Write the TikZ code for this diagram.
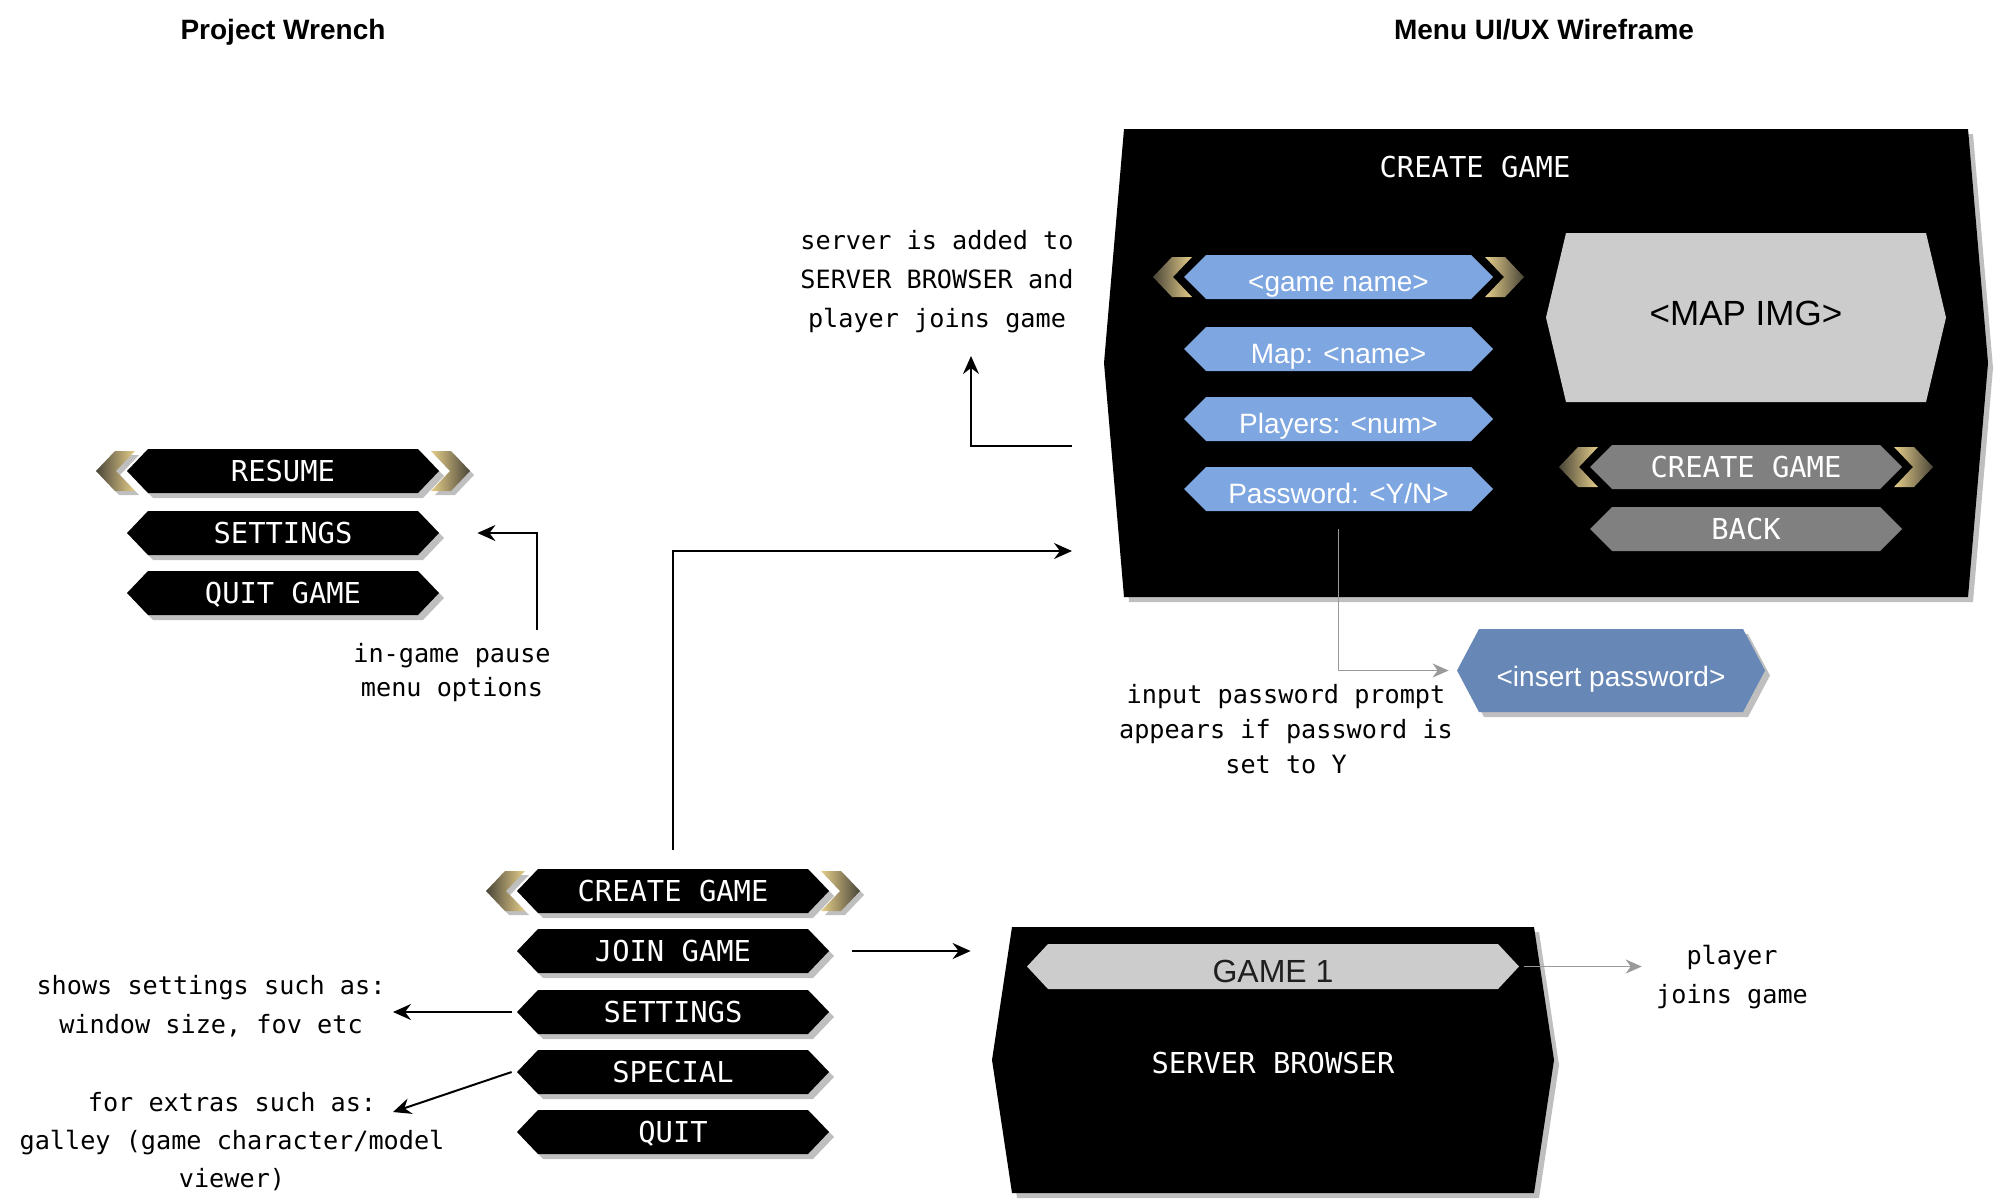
\documentclass[tikz,border=0pt]{standalone}
\usepackage{fontspec}
\usetikzlibrary{arrows.meta,calc}
\setmainfont{Liberation Sans}
\newfontfamily\monof{DejaVu Sans Mono}
\newfontfamily\sansf{Liberation Sans}
\definecolor{chevdark}{HTML}{4A4538}
\definecolor{chevgold}{HTML}{E6CF8B}
\definecolor{barblue}{HTML}{7EA6E0}
\definecolor{pwblue}{HTML}{6787B7}
\definecolor{bargray}{HTML}{808080}
\definecolor{lightbar}{HTML}{CCCCCC}
\definecolor{conngray}{HTML}{9A9A9A}
\newcommand\btnfont{\monof\fontsize{14.4}{17}\selectfont}
\newcommand\barfont{\sansf\fontsize{14}{16}\selectfont}
% cx, cy, half width, half height, inset, colour
\newcommand\hexfill[6]{%
  \fill[black,opacity=0.25] (#1-#3+5,#2+5) -- (#1-#3+#5+5,#2-#4+5) -- (#1+#3-#5+5,#2-#4+5) -- (#1+#3+5,#2+5) -- (#1+#3-#5+5,#2+#4+5) -- (#1-#3+#5+5,#2+#4+5) -- cycle;
  \fill[#6] (#1-#3,#2) -- (#1-#3+#5,#2-#4) -- (#1+#3-#5,#2-#4) -- (#1+#3,#2) -- (#1+#3-#5,#2+#4) -- (#1-#3+#5,#2+#4) -- cycle;}
% left chevron: x of body left tip, cy
\newcommand\chevleft[2]{%
  \fill[black,opacity=0.25] (#1-27,#2+4) -- (#1-8,#2-16) -- (#1+12,#2-16) -- (#1-7,#2+4) -- (#1+12,#2+24) -- (#1-8,#2+24) -- cycle;
  \shade[left color=chevdark,right color=chevgold] (#1-31,#2) -- (#1-12,#2-20) -- (#1+8,#2-20) -- (#1-11,#2) -- (#1+8,#2+20) -- (#1-12,#2+20) -- cycle;}
% right chevron: x of body right tip, cy
\newcommand\chevright[2]{%
  \fill[black,opacity=0.25] (#1+35,#2+4) -- (#1+16,#2-16) -- (#1-4,#2-16) -- (#1+15,#2+4) -- (#1-4,#2+24) -- (#1+16,#2+24) -- cycle;
  \shade[left color=chevgold,right color=chevdark] (#1+31,#2) -- (#1+12,#2-20) -- (#1-8,#2-20) -- (#1+11,#2) -- (#1-8,#2+20) -- (#1+12,#2+20) -- cycle;}
\begin{document}
\begin{tikzpicture}[x=0.5pt,y=-0.5pt,
  title/.style={font=\sansf\bfseries\fontsize{14}{16}\selectfont,inner sep=0pt,text height=10pt,text depth=0pt},
  btn/.style={text=white,font=\btnfont,inner sep=0pt,minimum width=156pt,minimum height=22pt,text height=10.5pt,text depth=0pt},
  bluetext/.style={text=white,font=\barfont,inner sep=0pt,minimum width=154.5pt,minimum height=22pt,text height=14.6pt,text depth=0pt},
  paneltext/.style={text=white,font=\btnfont,inner sep=0pt,text height=10.5pt,text depth=0pt},
  note/.style={align=center,inner sep=2pt,text=black},
  arr/.style={draw=black,line width=1pt,-{Stealth[length=9pt,width=8pt,inset=3pt]}},
  garr/.style={draw=conngray,line width=0.8pt,-{Stealth[length=8pt,width=7pt,inset=2.5pt]}}]
\fill[white] (0,0) rectangle (1996,1200);
\useasboundingbox (0,0) rectangle (1996,1200);

% titles
\node[title] (t-project) at (283,29) {Project Wrench};
\node[title] (t-wire) at (1544,29) {Menu UI/UX Wireframe};

% pause menu
\hexfill{283}{471}{156}{22}{21}{black}
\hexfill{283}{533}{156}{22}{21}{black}
\hexfill{283}{593}{156}{22}{21}{black}
\chevleft{127}{471}\chevright{439}{471}
\node[btn] (p-resume) at (283,471) {RESUME};
\node[btn] (p-settings) at (283,533) {SETTINGS};
\node[btn] (p-quit) at (283,593) {QUIT GAME};

% main menu
\hexfill{673}{891}{156}{22}{21}{black}
\hexfill{673}{951}{156}{22}{21}{black}
\hexfill{673}{1012}{156}{22}{21}{black}
\hexfill{673}{1072}{156}{22}{21}{black}
\hexfill{673}{1132}{156}{22}{21}{black}
\chevleft{517}{891}\chevright{829}{891}
\node[btn] (m-create) at (673,891) {CREATE GAME};
\node[btn] (m-join) at (673,951) {JOIN GAME};
\node[btn] (m-settings) at (673,1012) {SETTINGS};
\node[btn] (m-special) at (673,1072) {SPECIAL};
\node[btn] (m-quit) at (673,1132) {QUIT};

% create game panel
\hexfill{1546}{363}{442}{234}{20}{black}
\node[paneltext] (cg-title) at (1475,167) {CREATE GAME};
\hexfill{1338.5}{277}{154.5}{22}{22}{barblue}
\hexfill{1338.5}{349}{154.5}{22}{22}{barblue}
\hexfill{1338.5}{419}{154.5}{22}{22}{barblue}
\hexfill{1338.5}{489}{154.5}{22}{22}{barblue}
\chevleft{1184}{277}\chevright{1493}{277}
\node[bluetext] (b-name) at (1338.5,277) {<game name>};
\node[bluetext] (b-map) at (1338.5,349) {Map: <name>};
\node[bluetext] (b-players) at (1338.5,419) {Players: <num>};
\node[bluetext] (b-pass) at (1338.5,489) {Password: <Y/N>};
\hexfill{1746}{317.5}{200}{84.5}{20}{lightbar}
\node[font=\sansf\fontsize{17.5}{20}\selectfont,text=black,inner sep=0pt,minimum width=200pt,minimum height=84.5pt,text height=8pt,text depth=0pt] (mapimg) at (1746,317.5) {<MAP IMG>};
\hexfill{1746}{467}{156}{22}{22}{bargray}
\hexfill{1746}{529}{156}{22}{22}{bargray}
\chevleft{1590}{467}\chevright{1902}{467}
\node[btn] (g-create) at (1746,467) {CREATE GAME};
\node[btn] (g-back) at (1746,529) {BACK};

% server browser panel
\hexfill{1273}{1060}{281}{133}{20}{black}
\node[paneltext,minimum width=281pt,minimum height=133pt] (server) at (1273,1063) {SERVER BROWSER};
\hexfill{1273}{966.5}{246}{22.5}{21}{lightbar}
\node[font=\sansf\fontsize{16}{18}\selectfont,text=black!88,inner sep=0pt,minimum width=246pt,minimum height=22.5pt,text height=16pt,text depth=0pt] (game1) at (1273,966.5) {GAME 1};

% password prompt
\hexfill{1611}{670.5}{154}{41.5}{22}{pwblue}
\node[bluetext,minimum width=154pt,minimum height=41.5pt,text height=15.5pt] (insertpw) at (1611,670.5) {<insert password>};

% notes
\node[note,font=\monof\fontsize{12.6}{17}\selectfont] (pausenote) at (452,673) {in-game pause\\menu options};
\node[note,font=\monof\fontsize{12.6}{19.5}\selectfont] (settingsnote) at (211,1006) {shows settings such as:\\window size, fov etc};
\node[note,font=\monof\fontsize{12.6}{19}\selectfont] (specialnote) at (232,1142) {for extras such as:\\galley (game character/model\\viewer)};
\node[note,font=\monof\fontsize{12.6}{19.5}\selectfont] (servernote) at (937,282) {server is added to\\SERVER BROWSER and\\player joins game};
\node[note,font=\monof\fontsize{12.6}{17.5}\selectfont] (pwnote) at (1286,729) {input password prompt\\appears if password is\\set to Y};
\node[note,font=\monof\fontsize{12.6}{19.5}\selectfont] (joinnote) at (1732,977) {player\\joins game};

% connector end points
\coordinate (pausestart) at (537,630);
\coordinate (cgin) at (1072,551);
\coordinate (cgout) at (1072,446);
\coordinate (servtip) at (971,356);
\coordinate (settip) at (393,1012);
\coordinate (spectip) at (393,1112);

% connectors
\draw[arr] (pausestart) |- ([xshift=19pt]p-settings.east);
\draw[arr] ([yshift=9.5pt]m-create.north) |- (cgin);
\draw[arr] ([xshift=11.5pt]m-join.east) -- ([xshift=-10.5pt]server.west |- m-join.east);
\draw[arr] ([xshift=-2.5pt]m-settings.west) -- (settip);
\draw[arr] ([xshift=-2.5pt]m-special.west) -- (spectip);
\draw[arr] (cgout) -| (servtip);
\draw[garr] ([xshift=2.5pt]game1.east) -- ([xshift=-5pt]joinnote.west |- game1.east);
\draw[garr] ([yshift=-9pt]b-pass.south) |- ([xshift=-4pt]insertpw.west);
\end{tikzpicture}
\end{document}
